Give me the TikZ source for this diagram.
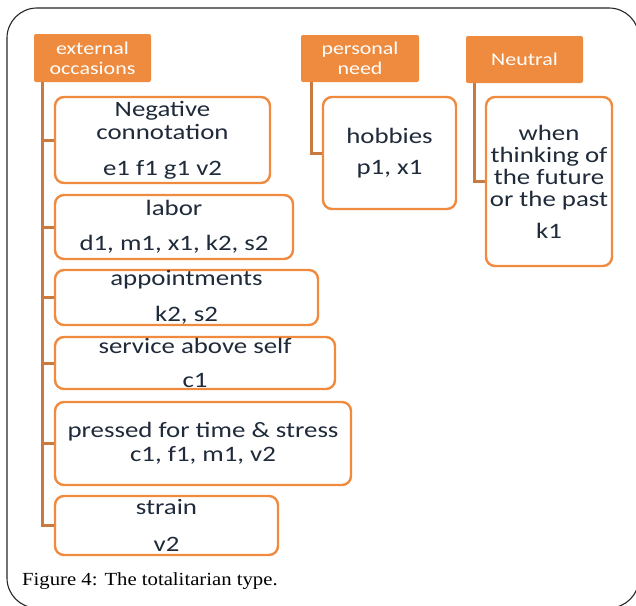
\documentclass[tikz,border=0pt]{standalone}
\usepackage{fontspec}
\setmainfont{Liberation Serif}[FakeStretch=1.12]
\newfontfamily\boxfont{Carlito}[FakeStretch=1.22]
\usetikzlibrary{calc}
\definecolor{headfill}{HTML}{EE8B3F}
\definecolor{boxline}{HTML}{F08A3E}
\definecolor{linkline}{HTML}{C97A3F}
\definecolor{textdark}{HTML}{1F2A3A}
\tikzset{
  head/.style={fill=headfill, draw=none, rounded corners=2pt, text=white,
    font=\boxfont\fontsize{18}{20}\selectfont, align=center, inner sep=0pt},
  item/.style={draw=boxline, line width=2.4pt, rounded corners=9pt, fill=white,
    text=textdark, font=\boxfont\fontsize{22}{23.5}\selectfont, align=center, inner sep=0pt},
  link/.style={draw=linkline, line width=3pt}
}
\begin{document}
\begin{tikzpicture}[x=1pt, y=-1pt]
\useasboundingbox (0,0) rectangle (636,605);
\clip (0,0) rectangle (636,605);
% outer frame
\draw[line width=1.1pt, black!85, rounded corners=30pt] (7,8) rectangle (639,608);

% category headers
\node[head, minimum width=117pt, minimum height=48pt] (ext) at (92.5,58) {external\\occasions};
\node[head, minimum width=118pt, minimum height=47pt] (pers) at (360,58.5) {personal\\need};
\node[head, minimum width=117pt, minimum height=47pt] (neut) at (524.5,59.5) {Neutral};

% items under "external occasions"
\node[item, minimum width=215pt, minimum height=86pt] (neg) at (162.5,140) {Negative\\connotation\\[12pt]e1 f1 g1 v2};
\node[item, minimum width=238pt, minimum height=64pt] (labor) at (174,227) {labor\\[11pt]d1, m1, x1, k2, s2};
\node[item, minimum width=263pt, minimum height=55pt] (appt) at (186.5,297.5) {appointments\\[12pt]k2, s2};
\node[item, minimum width=280pt, minimum height=52pt] (serv) at (195,363) {service above self\\[11pt]c1};
\node[item, minimum width=296pt, minimum height=83pt] (press) at (203,443.5) {pressed for time \& stress\\[1pt]c1, f1, m1, v2};
\node[item, minimum width=223pt, minimum height=59pt] (strain) at (166.5,525.5) {strain\\[13pt]v2};

% items under "personal need" and "Neutral"
\node[item, minimum width=133pt, minimum height=112pt] (hobby) at (389.5,153) {hobbies\\[8pt]p1, x1};
\node[item, minimum width=126pt, minimum height=169pt, font=\boxfont\fontsize{22}{22.3}\selectfont] (think) at (549,181.5) {when\\thinking of\\the future\\or the past\\[9pt]k1};

% connectors
\coordinate (extroot) at ($(ext.south west)+(9,0)$);
\coordinate (persroot) at ($(pers.south west)+(11,0)$);
\coordinate (neutroot) at ($(neut.south west)+(9,0)$);
\draw[link] (extroot) |- (strain.west);
\foreach \n in {neg,labor,appt,serv,press}
  \draw[link] (extroot |- \n.west) -- (\n.west);
\draw[link] (persroot) |- (hobby.west);
\draw[link] (neutroot) |- (think.west);

% caption
\node[anchor=base west, font=\fontsize{18.5}{21}\selectfont, inner sep=0pt] (cap) at (22,585) {Figure 4: The totalitarian type.};
\end{tikzpicture}
\end{document}
